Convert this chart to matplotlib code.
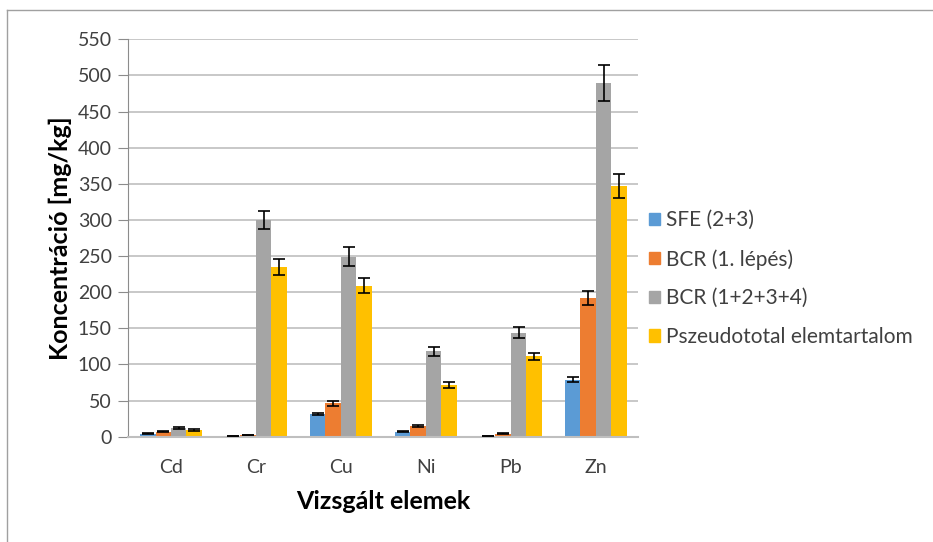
import numpy as np
import matplotlib
matplotlib.use("Agg")
import matplotlib.pyplot as plt
from matplotlib.lines import Line2D

plt.rcParams['font.family'] = ['Lato', 'DejaVu Sans']

elements = ["Cd", "Cr", "Cu", "Ni", "Pb", "Zn"]
series_names = ["SFE (2+3)", "BCR (1. lépés)", "BCR (1+2+3+4)", "Pszeudototal elemtartalom"]

sfe = [4, 1, 31, 7, 1, 79]
sfe_err = [0.5, 0.3, 1.5, 0.8, 0.3, 4]
bcr1 = [7, 2.5, 46, 15, 4, 192]
bcr1_err = [0.8, 0.5, 3, 1, 0.6, 10]
bcr_total = [12, 300, 249, 118, 144, 490]
bcr_total_err = [1, 13, 13, 6, 8, 25]
pseudo = [9, 235, 209, 71, 111, 347]
pseudo_err = [1, 11, 10, 4, 5, 17]

colors = ["#5B9BD5", "#ED7D31", "#A5A5A5", "#FFC000"]

values = [sfe, bcr1, bcr_total, pseudo]
errors = [sfe_err, bcr1_err, bcr_total_err, pseudo_err]

fig = plt.figure(figsize=(9.33, 5.42), dpi=100)
ax = fig.add_axes([0.1377, 0.1943, 0.5466, 0.7332])

x = np.arange(len(elements))
w = 0.182
for i in range(4):
    pos = x + (i - 1.5) * w
    ax.bar(pos, values[i], width=w, color=colors[i], label=series_names[i], zorder=2)
    ax.errorbar(pos, values[i], yerr=errors[i], fmt='none', ecolor='black',
                elinewidth=1.2, capsize=4.5, capthick=1.2, zorder=3)

ax.set_xlim(-0.5, len(elements) - 0.5)
ax.set_ylim(0, 550)
ax.set_yticks(np.arange(0, 551, 50))
ax.set_xticks(x)
ax.set_xticklabels(elements)
ax.yaxis.grid(True, color="#bfbfbf", linewidth=1.2, zorder=0)
ax.set_axisbelow(True)

for s in ['top', 'right']:
    ax.spines[s].set_visible(False)
ax.spines['left'].set_color("#8c8c8c")
ax.spines['bottom'].set_color("#bfbfbf")
ax.spines['bottom'].set_linewidth(1.5)
ax.tick_params(axis='y', direction='out', length=7, color="#8c8c8c", labelsize=14,
               labelcolor="#404040", pad=5)
ax.tick_params(axis='x', length=0, labelsize=14, labelcolor="#404040", pad=16)

ax.set_ylabel("Koncentráció [mg/kg]", fontsize=18, fontweight='bold', labelpad=4)
ax.set_xlabel("Vizsgált elemek", fontsize=18, fontweight='bold', labelpad=10)

handles = [plt.Rectangle((0, 0), 1, 1, color=c) for c in colors]
fig.legend(handles, series_names, loc='center left', bbox_to_anchor=(0.675, 0.486),
           frameon=False, fontsize=15, handlelength=0.55, handleheight=0.55,
           handletextpad=0.3, labelspacing=0.9, labelcolor="#404040")

# chart border
fig.add_artist(Line2D([7 / 933, 7 / 933], [0, 1 - 10 / 542], transform=fig.transFigure,
                      color="#a0a0a0", linewidth=1))
fig.add_artist(Line2D([7 / 933, 1], [1 - 10 / 542, 1 - 10 / 542], transform=fig.transFigure,
                      color="#a0a0a0", linewidth=1))

fig.savefig("out.png", dpi=100)
